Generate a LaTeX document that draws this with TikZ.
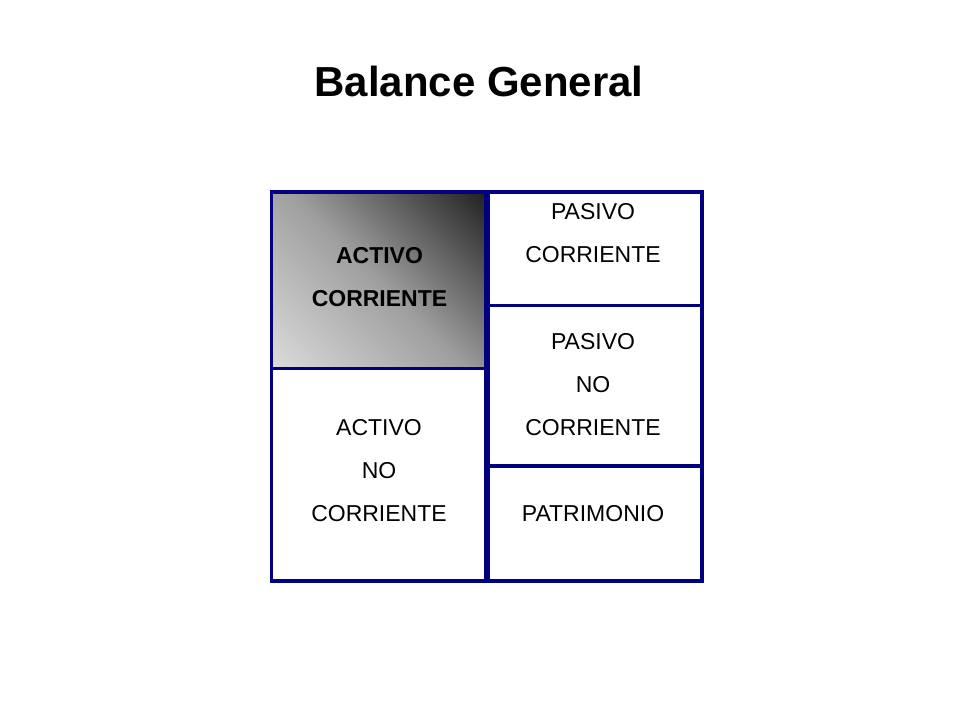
\documentclass[tikz,border=0pt]{standalone}
\usepackage{fontspec}
\setmainfont{Liberation Sans}
\usepackage{tikz}

\definecolor{navyline}{RGB}{0,0,128}
\definecolor{shadelight}{RGB}{224,224,224}
\definecolor{shademid}{RGB}{158,158,158}
\definecolor{shadedark}{RGB}{24,24,24}
\pgfdeclareverticalshading{actgrad}{100bp}{color(0bp)=(shadelight); color(12bp)=(shadelight); color(50bp)=(shademid); color(88bp)=(shadedark); color(100bp)=(shadedark)}

\begin{document}
\begin{tikzpicture}[
		x=1pt, y=-1pt,
		box/.style={rectangle, draw=navyline, line width=3.5pt, fill=white, inner sep=0pt},
		txt/.style={align=center, inner sep=0pt, font=\fontsize{23}{43}\selectfont}
	]
  \useasboundingbox (0, 0) rectangle (960, 720);
  \node (title) [anchor=base, font=\fontsize{42}{48}\selectfont\bfseries] at (479, 96) {Balance General};
  \node (act_c) [box, minimum width=214pt, minimum height=176.5pt, shading=actgrad, shading angle=-45] at (378.5, 280.25) {};
  \node (act_nc) [box, minimum width=214pt, minimum height=212.5pt] at (378.5, 474.75) {};
  \node (pas_c) [box, minimum width=213.5pt, minimum height=113.5pt] at (595.25, 248.75) {};
  \node (pas_nc) [box, minimum width=213.5pt, minimum height=160.5pt] at (595.25, 385.75) {};
  \node (patr) [box, minimum width=213.5pt, minimum height=115pt] at (595.25, 523.5) {};
  \node (act_c_label) [txt, font=\fontsize{23}{43}\selectfont\bfseries] at (379.5, 276.8) {ACTIVO\\CORRIENTE};
  \node (act_nc_label) [txt] at (379, 471) {ACTIVO\\NO\\CORRIENTE};
  \node (pas_c_label) [txt] at (593, 233) {PASIVO\\CORRIENTE};
  \node (pas_nc_label) [txt] at (593, 385) {PASIVO\\NO\\CORRIENTE};
  \node (patr_label) [txt] at (593, 514) {PATRIMONIO};
\end{tikzpicture}
\end{document}
